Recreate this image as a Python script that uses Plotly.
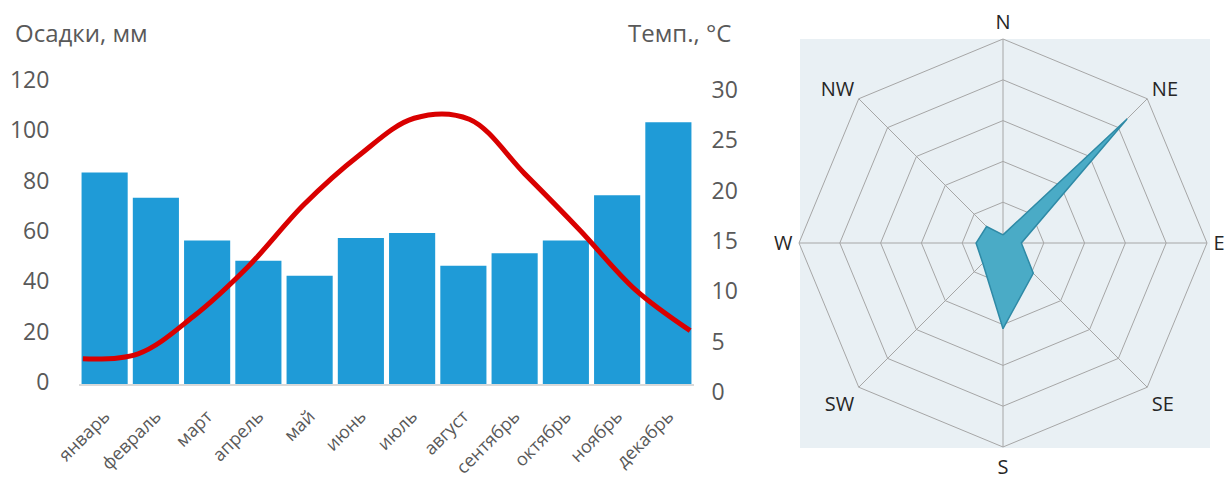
import plotly.graph_objects as go

months = ["январь", "февраль", "март", "апрель", "май", "июнь",
          "июль", "август", "сентябрь", "октябрь", "ноябрь", "декабрь"]
precip_mm = [84, 74, 57, 49, 43, 58, 60, 47, 52, 57, 75, 104]
temp_c = [2.5, 3.0, 6.7, 11.7, 17.8, 22.7, 26.4, 26.3, 20.9, 15.3, 9.4, 5.3]

directions = ["N", "NE", "E", "SE", "S", "SW", "W", "NW"]
wind_freq = [2, 43, 4.5, 10.5, 21, 7, 6.6, 5.7]

W, H = 1225, 479
GRAY = "#595959"
FONT = "Open Sans, DejaVu Sans, sans-serif"

def px(x):
    return x / W

def py(y):
    return 1 - y / H

fig = go.Figure()

fig.add_trace(go.Bar(
    x=months, y=precip_mm, marker=dict(color="#1f9bd7", line=dict(width=0)),
    xaxis="x", yaxis="y", showlegend=False, hoverinfo="x+y",
))

fig.add_trace(go.Scatter(
    x=months, y=temp_c, mode="lines",
    line=dict(color="#d90000", width=5, shape="spline", smoothing=1.0),
    xaxis="x2", yaxis="y2", showlegend=False,
))

r_closed = wind_freq + wind_freq[:1]
th_closed = directions + directions[:1]
fig.add_trace(go.Scatterpolar(
    r=r_closed, theta=th_closed, fill="toself", mode="lines",
    fillcolor="#4aabc6", line=dict(color="#2f8aa6", width=1.5),
    showlegend=False, subplot="polar",
))

x_dom = [px(79), px(694)]
y_dom = [py(384), py(82)]

fig.update_layout(
    width=W, height=H,
    margin=dict(l=0, r=0, t=0, b=0),
    paper_bgcolor="white", plot_bgcolor="white",
    font=dict(family=FONT, color=GRAY),
    bargap=0.1,
    xaxis=dict(
        domain=x_dom, type="category", showgrid=False, zeroline=False,
        showline=True, linecolor="#d9d9d9", linewidth=1.5,
        tickangle=-45, tickfont=dict(size=18, color=GRAY),
        ticks="outside", ticklen=13, tickcolor="rgba(0,0,0,0)",
        automargin=False, fixedrange=True,
    ),
    xaxis2=dict(
        domain=x_dom, type="category", overlaying="x", visible=False,
        range=[-0.07, 11.07], automargin=False,
    ),
    yaxis=dict(
        domain=y_dom, range=[0, 120], tickvals=[0, 20, 40, 60, 80, 100, 120],
        showgrid=False, zeroline=False, showline=False,
        tickfont=dict(size=23, color=GRAY),
        ticks="outside", ticklen=24, tickcolor="rgba(0,0,0,0)",
        ticklabelshift=-2,
        automargin=False,
    ),
    yaxis2=dict(
        domain=y_dom, range=[0, 30], overlaying="y", side="right",
        anchor="x", tickvals=[0, 5, 10, 15, 20, 25, 30],
        showgrid=False, zeroline=False, showline=False,
        tickfont=dict(size=23, color=GRAY),
        ticks="outside", ticklen=12, tickcolor="rgba(0,0,0,0)",
        ticklabelshift=8,
        automargin=False,
    ),
    polar=dict(
        domain=dict(x=[px(799), px(1207)], y=[py(447), py(39)]),
        bgcolor="#e9f0f4",
        gridshape="linear",
        angularaxis=dict(
            direction="clockwise", rotation=90, type="category",
            categoryarray=directions,
            showline=True, linecolor="#a6a6a6", linewidth=1,
            showgrid=True, gridcolor="#a6a6a6", gridwidth=1,
            ticks="outside", ticklen=2, tickcolor="rgba(0,0,0,0)",
            tickfont=dict(size=20, color="#262626"),
        ),
        radialaxis=dict(
            range=[0, 50], tickvals=[10, 20, 30, 40, 50],
            showticklabels=False, ticks="", showline=False,
            showgrid=True, gridcolor="#a6a6a6", gridwidth=1,
        ),
    ),
    shapes=[dict(
        type="rect", xref="paper", yref="paper", layer="below",
        x0=px(800), x1=px(1210), y0=py(448), y1=py(39),
        fillcolor="#e9f0f4", line=dict(width=0),
    )],
    annotations=[
        dict(text="Осадки, мм", xref="paper", yref="paper",
             x=px(13), y=py(32), xanchor="left", yanchor="middle",
             showarrow=False, font=dict(size=24, color=GRAY)),
        dict(text="Темп., °C", xref="paper", yref="paper",
             x=px(733), y=py(32), xanchor="right", yanchor="middle",
             showarrow=False, font=dict(size=24, color=GRAY)),
    ],
)

fig.write_html(
    "out.html",
    config={"displayModeBar": False},
    post_script="document.body.style.margin='0px';document.body.style.overflow='hidden';",
)
